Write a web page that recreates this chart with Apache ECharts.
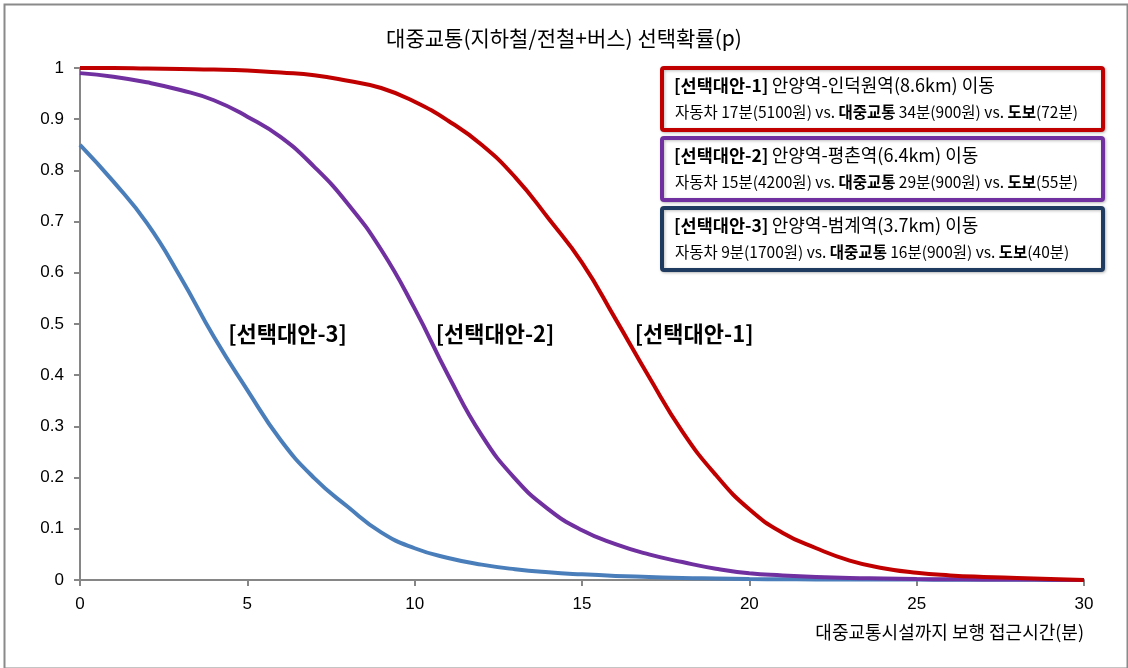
<!DOCTYPE html>
<html>
<head>
<meta charset="utf-8">
<script src="https://cdn.jsdelivr.net/npm/echarts@6/dist/echarts.min.js"></script>
<style>
html,body{margin:0;padding:0;background:#fff;}
#chart{width:1128px;height:668px;}
</style>
</head>
<body>
<div id="chart"></div>
<script>
// ---- data ----
const titleText = '대중교통(지하철/전철+버스) 선택확률(p)';
const xAxisName = '대중교통시설까지 보행 접근시간(분)';
const xValues = [0,1,2,3,4,5,6,7,8,9,10,11,12,13,14,15,16,17,18,19,20,21,22,23,24,25,26,27,28,29,30];
const alt1 = [1.0,1.0,0.999,0.998,0.997,0.995,0.991,0.986,0.975,0.961,0.934,0.897,0.85,0.787,0.706,0.62,0.51,0.397,0.29,0.205,0.138,0.092,0.062,0.038,0.023,0.014,0.009,0.006,0.004,0.002,0.0];
const alt2 = [0.99,0.983,0.972,0.957,0.937,0.905,0.865,0.807,0.735,0.645,0.53,0.40,0.283,0.198,0.138,0.097,0.07,0.05,0.035,0.022,0.013,0.009,0.006,0.004,0.003,0.002,0.0015,0.001,0.001,0.0005,0.0];
const alt3 = [0.85,0.778,0.697,0.592,0.475,0.371,0.273,0.199,0.143,0.093,0.062,0.043,0.03,0.021,0.015,0.011,0.008,0.006,0.004,0.003,0.002,0.0015,0.001,0.001,0.001,0.0008,0.0006,0.0005,0.0004,0.0002,0.0];
const seriesNames = ['[선택대안-1]','[선택대안-2]','[선택대안-3]'];
const curveLabelPos = [[18.35,0.482],[12.4,0.482],[6.2,0.482]];
const boxTitles = ['안양역-인덕원역(8.6km) 이동','안양역-평촌역(6.4km) 이동','안양역-범계역(3.7km) 이동'];
const boxCar = ['자동차 17분(5100원) vs. ','자동차 15분(4200원) vs. ','자동차 9분(1700원) vs. '];
const boxTransit = ['34분(900원) vs. ','29분(900원) vs. ','16분(900원) vs. '];
const boxWalk = ['(72분)','(55분)','(40분)'];
const yTicks = ['0','0.1','0.2','0.3','0.4','0.5','0.6','0.7','0.8','0.9','1'];

// ---- styles ----
const colors = ['#C00000','#7030A0','#4A7EBB'];
const boxColors = ['#C00000','#7030A0','#1F3B5F'];
const FONT = '"Noto Sans CJK KR", "Noto Sans", sans-serif';
const NUMFONT = '"Liberation Sans", Arial, sans-serif';

const chart = echarts.init(document.getElementById('chart'));
const datasets = [alt1, alt2, alt3];

const series = datasets.map((arr, i) => ({
  name: seriesNames[i],
  type: 'line',
  smooth: true,
  symbol: 'none',
  data: xValues.map((x, j) => [x, arr[j]]),
  lineStyle: {color: colors[i], width: 4},
  itemStyle: {color: colors[i]},
  z: 3 - i,
  markPoint: {
    symbol: 'circle',
    symbolSize: 1,
    itemStyle: {color: 'rgba(0,0,0,0)'},
    data: [{coord: curveLabelPos[i], value: seriesNames[i]}],
    label: {
      show: true, formatter: seriesNames[i], color: '#000',
      fontFamily: FONT, fontSize: 22, fontWeight: 'bold', position: 'inside'
    }
  }
}));

const boxTop = [66, 136, 206];
const graphics = [
  {type:'rect', left:2, top:2, shape:{width:1123, height:664}, style:{fill:'none', stroke:'#8a8a8a', lineWidth:2}, silent:true}
];
boxTop.forEach((t, i) => {
  graphics.push({
    type:'group', left:660, top:t,
    children:[
      {type:'rect', shape:{x:0, y:0, width:441, height:62, r:2}, style:{fill:'#fff', stroke:boxColors[i], lineWidth:4, shadowBlur:3, shadowColor:'rgba(0,0,0,0.25)', shadowOffsetX:1, shadowOffsetY:1}},
      {type:'text', x:12, y:17, style:{
        text:'{b|' + seriesNames[i] + '} {n|' + boxTitles[i] + '}',
        verticalAlign:'middle',
        rich:{
          b:{fontFamily:FONT, fontSize:17.5, fontWeight:'bold', fill:'#000'},
          n:{fontFamily:FONT, fontSize:18, fill:'#000'}
        }
      }},
      {type:'text', x:13, y:44, style:{
        text:'{n|' + boxCar[i] + '}{b|대중교통} {n|' + boxTransit[i] + '}{b|도보}{n|' + boxWalk[i] + '}',
        verticalAlign:'middle',
        rich:{
          b:{fontFamily:FONT, fontSize:15.5, fontWeight:'bold', fill:'#000'},
          n:{fontFamily:FONT, fontSize:15.5, fill:'#000'}
        }
      }}
    ]
  });
});

chart.setOption({
  backgroundColor:'#fff',
  animation:false,
  title:{
    text:titleText, left:'center', top:23,
    textStyle:{fontFamily:FONT, fontSize:21, fontWeight:'normal', color:'#000'}
  },
  grid:{left:80, right:44, top:68, bottom:88, containLabel:false},
  xAxis:{
    type:'value', min:0, max:30, interval:5,
    name:xAxisName, nameLocation:'end', nameGap:0,
    nameTextStyle:{fontFamily:FONT, fontSize:18, color:'#000', align:'right', verticalAlign:'top', padding:[43,0,0,0]},
    axisLine:{lineStyle:{color:'#868686', width:2}},
    axisTick:{show:true, length:6, lineStyle:{color:'#868686', width:2}},
    axisLabel:{fontFamily:NUMFONT, fontSize:17, color:'#000', margin:16},
    splitLine:{show:false}
  },
  yAxis:{
    type:'value', min:0, max:1, interval:0.1,
    axisLine:{show:true, lineStyle:{color:'#868686', width:2}},
    axisTick:{show:true, length:6, lineStyle:{color:'#868686', width:2}},
    axisLabel:{fontFamily:NUMFONT, fontSize:17, color:'#000', margin:16,
      formatter:(v)=>yTicks[Math.round(v*10)]},
    splitLine:{show:false}
  },
  series:series,
  graphic:graphics
});
</script>
</body>
</html>
